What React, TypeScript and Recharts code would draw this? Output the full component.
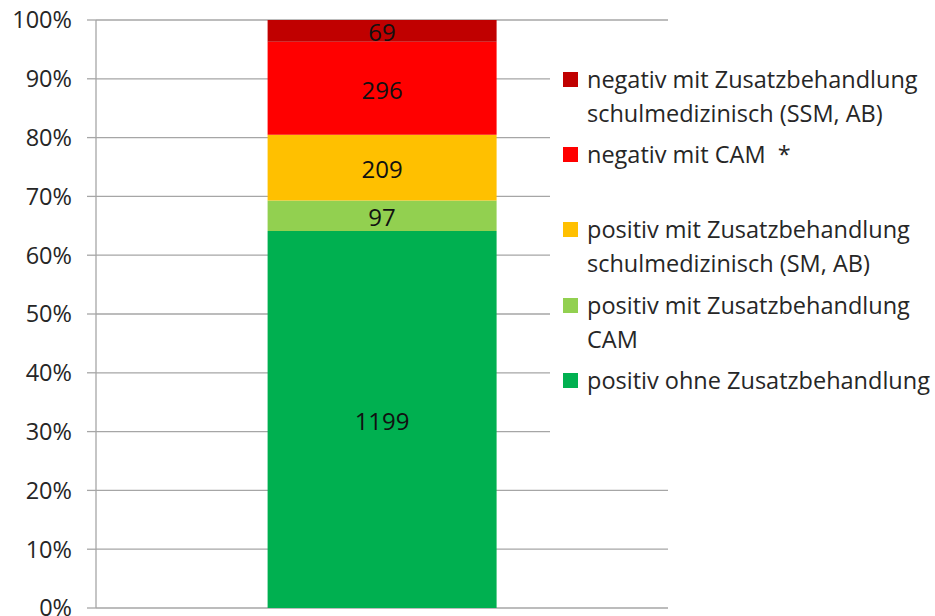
import React from 'react';
import { BarChart, Bar, XAxis, YAxis, CartesianGrid, LabelList, Legend } from 'recharts';

const categories = ['Gesamt'];
const posOhne = [1199];
const posCam = [97];
const posSm = [209];
const negCam = [296];
const negSsm = [69];
const yTicks = [0, 0.1, 0.2, 0.3, 0.4, 0.5, 0.6, 0.7, 0.8, 0.9, 1];

const seriesKeys = ['posOhne', 'posCam', 'posSm', 'negCam', 'negSsm'];
const seriesNames = [
  'positiv ohne Zusatzbehandlung',
  'positiv mit Zusatzbehandlung\nCAM',
  'positiv mit Zusatzbehandlung\nschulmedizinisch (SM, AB)',
  'negativ mit CAM  *',
  'negativ mit Zusatzbehandlung\nschulmedizinisch (SSM, AB)',
];
const seriesColors = ['#00B050', '#92D050', '#FFC000', '#FF0000', '#C00000'];

const data = categories.map((name, i) => ({
  name,
  posOhne: posOhne[i],
  posCam: posCam[i],
  posSm: posSm[i],
  negCam: negCam[i],
  negSsm: negSsm[i],
}));

const FONT = '"Open Sans", Lato, sans-serif';
const GRID = '#a6a6a6';
const TEXT = '#262626';

const renderLegend = () => {
  const order = [4, 3, 2, 1, 0];
  return (
    <div style={{ fontFamily: FONT, fontSize: 23.5, color: TEXT, background: '#fff', paddingTop: 17 }}>
      {order.map((idx) => (
        <div key={idx} style={{ position: 'relative', height: 75.2, paddingLeft: 37 }}>
          <span
            style={{
              position: 'absolute',
              left: 13,
              top: 10,
              width: 15,
              height: 15,
              background: seriesColors[idx],
            }}
          />
          <div style={{ whiteSpace: 'pre', lineHeight: '34px' }}>{seriesNames[idx]}</div>
        </div>
      ))}
    </div>
  );
};

export default function App() {
  return (
    <div style={{ position: 'absolute', left: 0, top: 0, background: '#fff' }}>
      <BarChart
        width={935}
        height={616}
        data={data}
        stackOffset="expand"
        barCategoryGap="30%"
        margin={{ top: 20, right: 267, bottom: 8, left: 0 }}
      >
        <CartesianGrid vertical={false} stroke={GRID} strokeWidth={1.3} />
        <XAxis dataKey="name" tick={false} tickLine={false} axisLine={{ stroke: GRID, strokeWidth: 1.3 }} height={0} />
        <YAxis
          width={96}
          domain={[0, 1]}
          ticks={yTicks}
          interval={0}
          tickFormatter={(v: number) => `${Math.round(v * 100)}%`}
          tickSize={9}
          tickMargin={15}
          tickLine={{ stroke: GRID, strokeWidth: 1.3 }}
          axisLine={{ stroke: GRID, strokeWidth: 1.3 }}
          tick={{ fill: TEXT, fontSize: 23.5, fontFamily: FONT }}
        />
        <Legend
          layout="vertical"
          align="center"
          verticalAlign="middle"
          content={renderLegend}
          wrapperStyle={{ position: 'absolute', left: 550, top: 45, width: 385, height: 400, background: '#fff' }}
        />
        {seriesKeys.map((k, i) => (
          <Bar key={k} dataKey={k} stackId="a" fill={seriesColors[i]} name={seriesNames[i]} isAnimationActive={false}>
            <LabelList dataKey={k} position="center" fill="#111" fontSize={24} fontFamily={FONT} dy={2} />
          </Bar>
        ))}
      </BarChart>
    </div>
  );
}
